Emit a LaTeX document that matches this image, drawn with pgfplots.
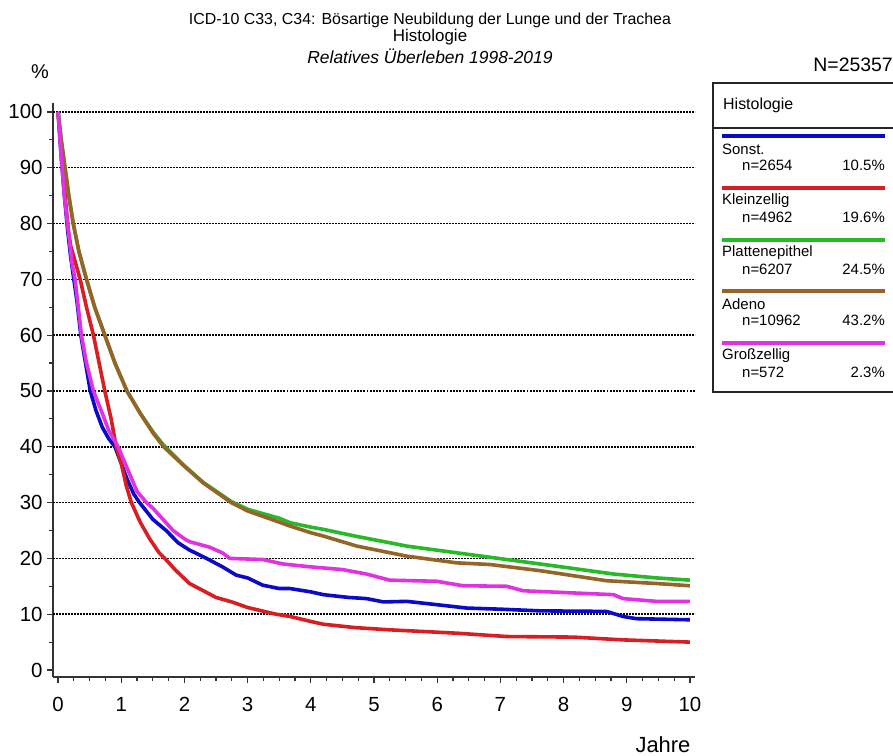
\documentclass[border=0pt]{standalone}
\usepackage{pgfplots}
\pgfplotsset{compat=1.18}
\usepackage{fontspec}
\setmainfont{Liberation Sans}
\definecolor{cblue}{RGB}{10,10,200}
\definecolor{cred}{RGB}{215,30,35}
\definecolor{cgreen}{RGB}{40,185,40}
\definecolor{cbrown}{RGB}{150,100,40}
\definecolor{cpink}{RGB}{225,50,225}
\begin{document}
\begin{tikzpicture}[x=1bp,y=1bp]
\path[use as bounding box] (0,0) rectangle (893,756);
\begin{axis}[
  at={(53bp,79bp)}, anchor=south west,
  scale only axis, width=642bp, height=574bp,
  xmin=-0.08, xmax=10.08, ymin=-1.25, ymax=101.6,
  axis x line*=bottom, axis y line*=left,
  axis line style={-, line width=1.3bp, black!80},
  xtick={0,1,...,10}, ytick={0,10,...,100},
  minor x tick num=3, minor y tick num=1,
  tick align=outside,
  major tick length=6bp, minor tick length=4bp,
  every tick/.style={line width=1.2bp, black!80},
  tick label style={font=\fontsize{20.5}{24}\selectfont},
  /pgf/number format/assume math mode=true,
  xticklabel style={yshift=-11bp},
  yticklabel style={xshift=-1bp},
  extra y ticks={10,20,30,40,60,70,80,90,100},
  extra y tick labels={},
  extra y tick style={grid=major, major tick length=0pt},
  grid style={line width=1.5bp, black, dash pattern=on 1.5bp off 1.5bp},
  clip=false,
  every axis plot/.append style={line width=3.6bp, line join=round},
]
\draw[line width=2.2bp, black, dash pattern=on 1.8bp off 1.4bp] (axis cs:-0.08,50) -- (axis cs:10.08,50);
% Sonst.
\addplot[cblue] coordinates {
(0,100) (0.05,92) (0.1,85) (0.15,79) (0.2,74) (0.25,70) (0.3,66) (0.36,60) (0.45,54) (0.51,50)
(0.6,46.5) (0.7,43.5) (0.8,41.5) (0.9,40) (1.0,37) (1.1,34) (1.2,31.5) (1.29,30) (1.5,27) (1.71,25)
(1.9,22.8) (2.08,21.5) (2.35,20) (2.6,18.5) (2.82,17) (3.0,16.5) (3.24,15.2) (3.5,14.6) (3.67,14.6) (4.0,14.0)
(4.2,13.5) (4.6,13.0) (4.88,12.8) (5.15,12.2) (5.52,12.3) (6.0,11.7) (6.47,11.1) (7.0,10.9) (7.63,10.6) (8.68,10.5)
(8.94,9.6) (9.15,9.2) (10,9.0)
};
% Kleinzellig
\addplot[cred] coordinates {
(0,100) (0.04,95) (0.08,90) (0.12,84) (0.16,79) (0.2,76) (0.25,74) (0.35,70) (0.45,65) (0.56,60)
(0.65,55) (0.74,50) (0.84,45) (0.92,40) (1.0,37) (1.08,33) (1.16,30) (1.3,26.5) (1.45,23.5) (1.6,21)
(1.69,20) (1.85,18) (2.08,15.5) (2.3,14.2) (2.5,13) (2.75,12.2) (3.0,11.2) (3.45,10) (3.67,9.6) (4.0,8.7)
(4.2,8.2) (4.7,7.6) (5.25,7.2) (6.31,6.6) (7.1,6.0) (8.15,5.9) (8.94,5.4) (10,5.0)
};
% Plattenepithel
\addplot[cgreen] coordinates {
(0,100) (0.05,95) (0.11,90) (0.17,85) (0.24,80) (0.33,75) (0.45,70) (0.58,65) (0.74,60) (0.9,55)
(1.09,50) (1.3,46) (1.5,42.7) (1.67,40.3) (2.0,36.6) (2.3,33.6) (2.74,30.2) (3.0,28.8) (3.5,27.2) (3.67,26.4)
(4.0,25.6) (4.2,25.2) (4.7,24.0) (5.25,22.8) (5.52,22.2) (6.31,21.0) (7.1,19.8) (7.89,18.6) (8.79,17.2) (9.47,16.5) (10,16.1)
};
% Adeno
\addplot[cbrown] coordinates {
(0,100) (0.05,95) (0.11,90) (0.17,85) (0.24,80) (0.33,75) (0.45,70) (0.58,65) (0.74,60) (0.9,55)
(1.09,50) (1.3,46) (1.5,42.5) (1.67,40) (2.0,36.5) (2.3,33.5) (2.74,30) (3.0,28.5) (3.5,26.5) (3.67,25.8)
(4.0,24.6) (4.2,24.0) (4.73,22.2) (5.52,20.4) (6.31,19.2) (6.84,18.9) (7.63,17.8) (8.68,16.0) (9.47,15.5) (10,15.1)
};
% Grosszellig
\addplot[cpink] coordinates {
(0,100) (0.05,92) (0.1,85) (0.16,79) (0.22,73) (0.27,70) (0.37,60) (0.45,55) (0.56,50) (0.7,46)
(0.8,43) (0.95,40) (1.1,36) (1.25,32) (1.4,30) (1.5,29) (1.66,27) (1.82,25) (2.0,23.5) (2.08,23)
(2.4,22) (2.6,21) (2.72,20) (3.24,19.8) (3.56,19) (3.98,18.5) (4.5,18) (4.88,17.2) (5.25,16.1) (5.99,15.9)
(6.41,15.1) (7.1,15.0) (7.36,14.2) (8.79,13.5) (8.94,12.8) (9.47,12.3) (10,12.3)
};
\end{axis}
% titles
\node[font=\fontsize{16}{18}\selectfont, inner sep=0pt] at (430,736) {ICD-10 C33, C34: Bösartige Neubildung der Lunge und der Trachea};
\node[font=\fontsize{17}{20}\selectfont, inner sep=0pt] at (430,719) {Histologie};
\node[font=\fontsize{17.5}{20}\selectfont\itshape, inner sep=0pt] at (430,700) {Relatives Überleben 1998-2019};
\node[font=\fontsize{20}{24}\selectfont] at (40,684) {\%};
\node[font=\fontsize{19.5}{22}\selectfont, anchor=east, inner sep=0pt] at (893,691) {N=25357};
\node[font=\fontsize{22}{26}\selectfont, inner sep=0pt] at (663,11) {Jahre};
% legend box
\draw[line width=1.2bp, black!85] (713,364) rectangle (905,673);
\draw[line width=1.2bp, black!85] (713,628) -- (905,628);
\node[font=\fontsize{16}{19}\selectfont, anchor=west, inner sep=0pt] at (723,651) {Histologie};
\foreach \ly/\col/\nm/\nn/\pc in {620/cblue/Sonst./2654/10.5, 568/cred/Kleinzellig/4962/19.6, 516/cgreen/Plattenepithel/6207/24.5, 465/cbrown/Adeno/10962/43.2, 413/cpink/Großzellig/572/2.3}{
  \draw[\col, line width=3.6bp] (722,\ly) -- (885,\ly);
  \node[font=\fontsize{15}{17}\selectfont, anchor=west, inner sep=0pt] at (722,\ly-13) {\nm};
  \node[font=\fontsize{15}{17}\selectfont, anchor=west, inner sep=0pt] at (742,\ly-29) {n=\nn};
  \node[font=\fontsize{15}{17}\selectfont, anchor=east, inner sep=0pt] at (885,\ly-29) {\pc\%};
}
\end{tikzpicture}
\end{document}
